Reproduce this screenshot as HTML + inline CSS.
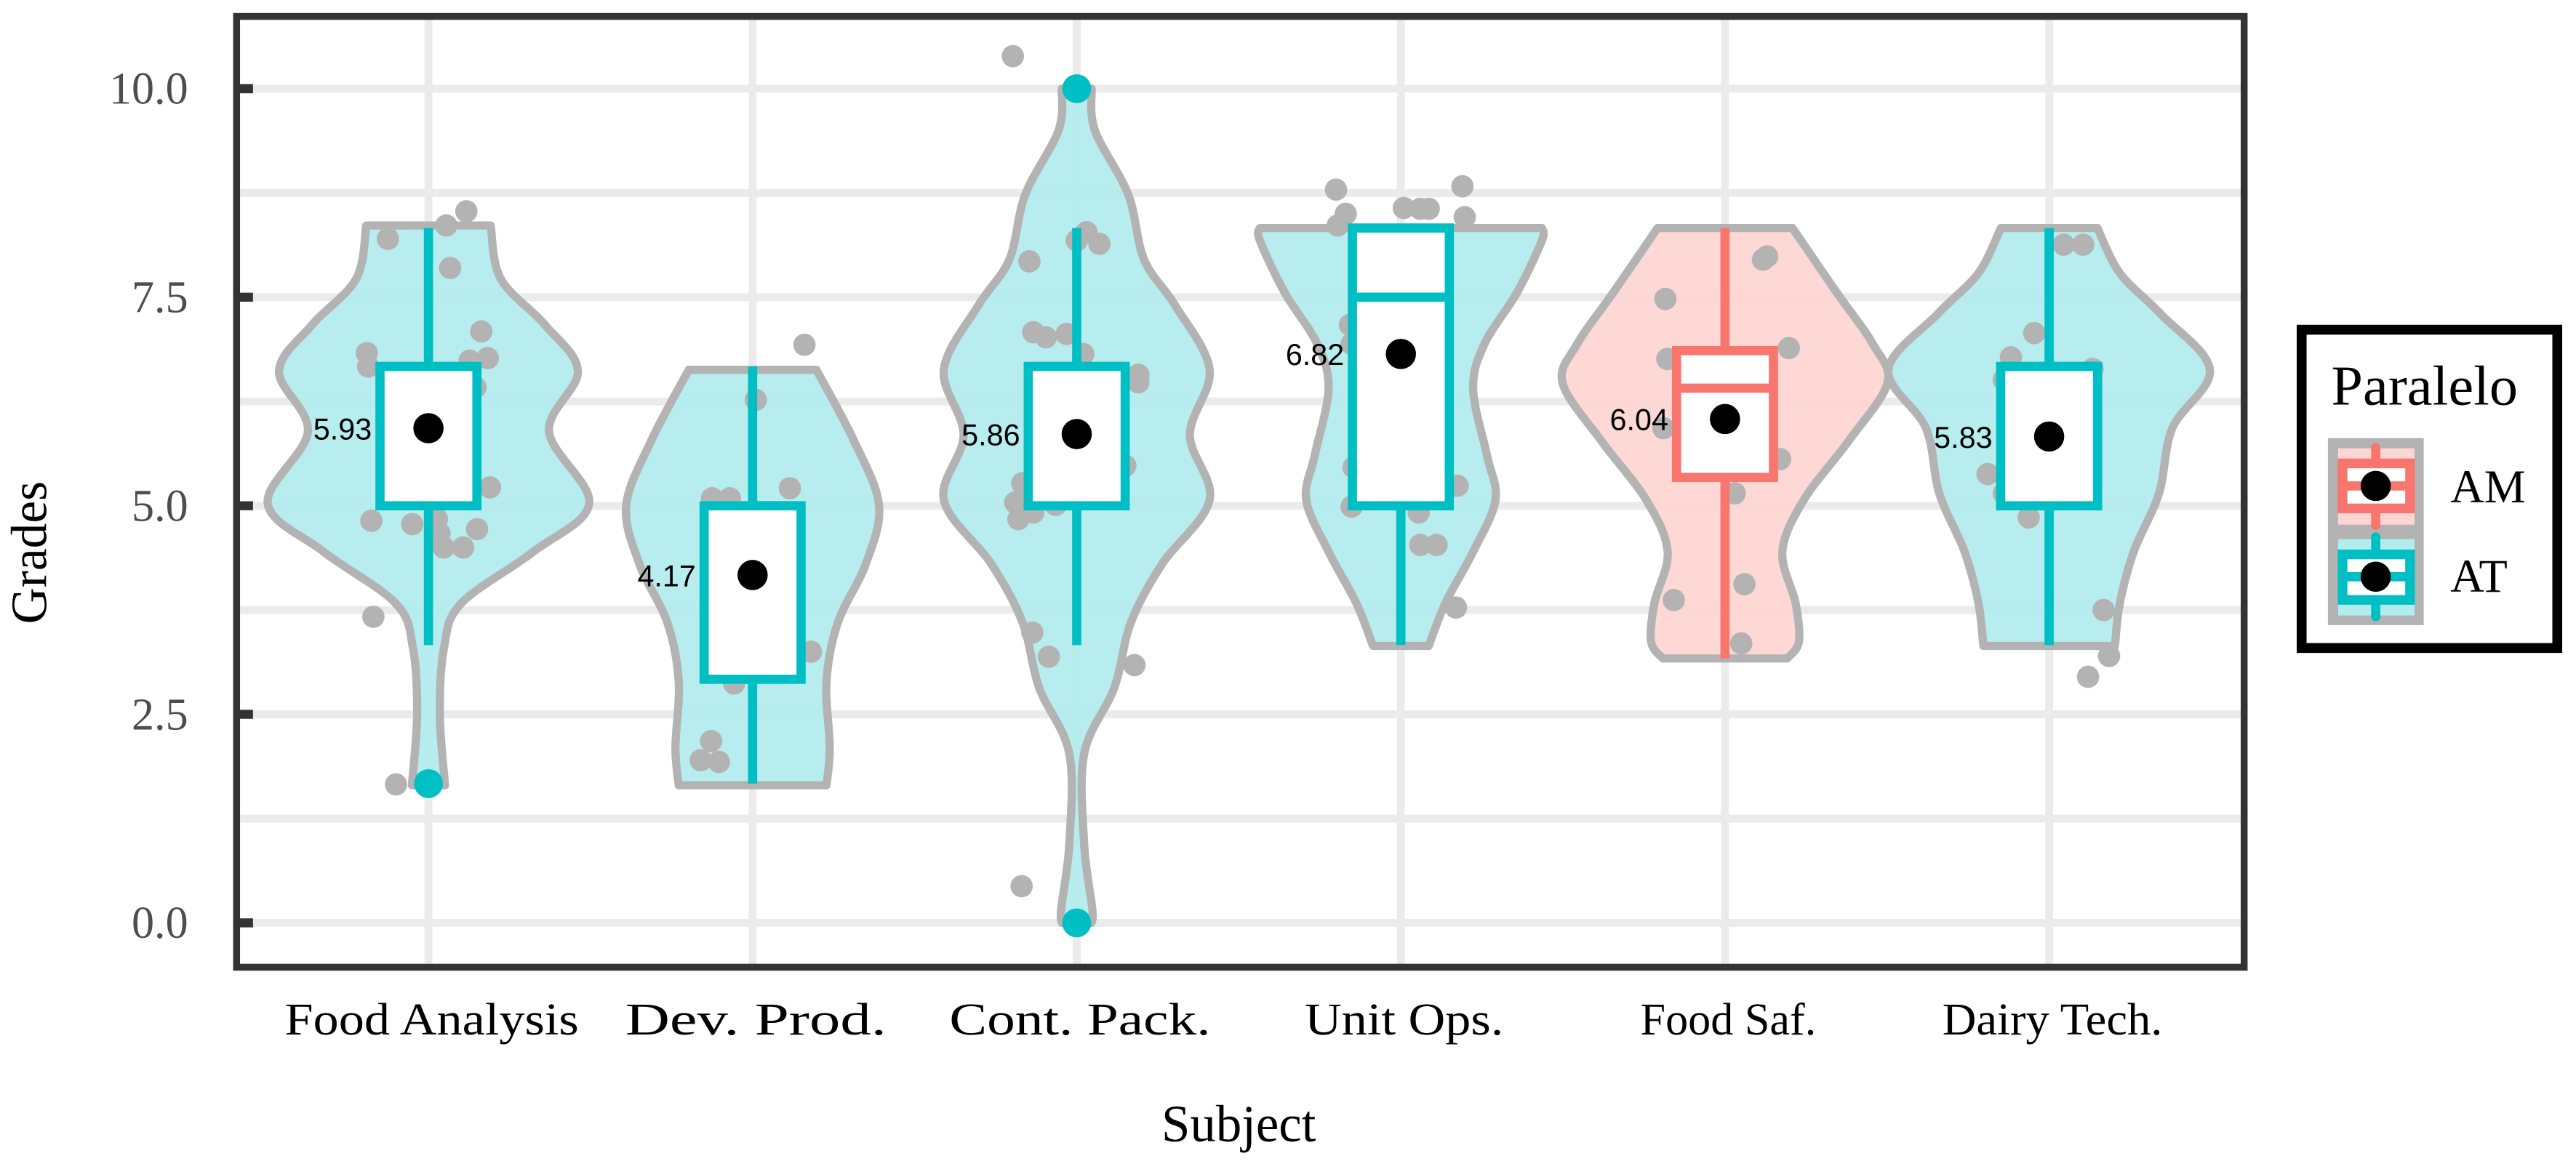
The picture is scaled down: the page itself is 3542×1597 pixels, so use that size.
<!DOCTYPE html>
<html><head><meta charset="utf-8">
<style>
html,body{margin:0;padding:0;background:#fff;}
svg{display:block;}
</style></head>
<body>
<svg id="chart" xmlns="http://www.w3.org/2000/svg" width="3542" height="1597" viewBox="0 0 1568 707" preserveAspectRatio="none">
<g id="grid"></g>
<g id="violins"></g>
<g id="points"></g>
<g id="boxes"></g>
<g id="axes"></g>
<g id="legend">
  <rect x="1401" y="200.8" width="155.6" height="193.8" fill="#fff" stroke="#000" stroke-width="6"/>
  <text x="1419" y="246.4" font-family="Liberation Serif, serif" font-size="34" textLength="113.6" lengthAdjust="spacingAndGlyphs">Paralelo</text>
  <rect x="1417" y="266.8" width="58.3" height="113.9" fill="#b3b3b3"/>
  <g>
    <rect x="1423.2" y="273" width="46.5" height="46.5" fill="#fdd6d3"/>
    <line x1="1446.1" y1="272.5" x2="1446.1" y2="320" stroke="#F8766D" stroke-width="5.6" stroke-linecap="round"/>
    <rect x="1425.9" y="282.2" width="41.1" height="27.4" fill="#fff" stroke="#F8766D" stroke-width="5.9"/>
    <line x1="1425.9" y1="295.9" x2="1467" y2="295.9" stroke="#F8766D" stroke-width="5.6"/>
    <circle cx="1446.1" cy="295.9" r="9.2" fill="#000"/>
    <text x="1491.5" y="305.8" font-family="Liberation Serif, serif" font-size="28.5">AM</text>
  </g>
  <g>
    <rect x="1423.2" y="328.3" width="46.5" height="46.5" fill="#b3eced"/>
    <line x1="1446.1" y1="327" x2="1446.1" y2="375.5" stroke="#00BFC4" stroke-width="5.6" stroke-linecap="round"/>
    <rect x="1425.9" y="337.6" width="41.1" height="27.7" fill="#fff" stroke="#00BFC4" stroke-width="5.9"/>
    <line x1="1425.9" y1="351.2" x2="1467" y2="351.2" stroke="#00BFC4" stroke-width="5.6"/>
    <circle cx="1446.1" cy="351.2" r="9.2" fill="#000"/>
    <text x="1491.5" y="360.3" font-family="Liberation Serif, serif" font-size="28.5">AT</text>
  </g>
</g>
</svg>
<script>
// ---------- data ----------
const categories = ["Food Analysis","Dev. Prod.","Cont. Pack.","Unit Ops.","Food Saf.","Dairy Tech."];
const groups = ["AT","AT","AT","AT","AM","AT"];
const means = [5.93, 4.17, 5.86, 6.82, 6.04, 5.83];
const q1 = [5.0, 2.92, 5.0, 5.0, 5.34, 5.0];
const medians = [6.67, 5.0, 6.67, 7.5, 6.41, 6.67];
const q3 = [6.67, 5.0, 6.67, 8.33, 6.86, 6.67];
const whiskerLow = [3.33, 1.67, 3.33, 3.33, 3.17, 3.33];
const whiskerHigh = [8.33, 6.67, 8.33, 8.33, 8.33, 8.33];
const outlierCat = [0, 2, 2];
const outlierVal = [1.67, 10.0, 0.0];
const yTicks = [0, 2.5, 5, 7.5, 10];
const yTickLabels = ["0.0","2.5","5.0","7.5","10.0"];
const yMinor = [1.25, 3.75, 6.25, 8.75];
// violin density profiles: grade levels and half-widths (category units)
const vLevels0 = [8.36,7.72,7.17,6.61,5.89,5.03,4.45,3.83,3.3,2.5,1.65];
const vWidth0  = [.192,.223,.359,.461,.372,.496,.324,.101,.048,.035,.051];
const vLevels1 = [6.63,5.77,5.0,4.3,3.6,2.9,2.1,1.65];
const vWidth1  = [.197,.314,.39,.349,.263,.228,.238,.228];
const vLevels2 = [10.0,9.5,8.73,7.95,7.4,6.63,5.85,5.07,4.3,3.6,2.82,2.03,0.94,0.17,0.0];
const vWidth2  = [.046,.056,.159,.208,.304,.41,.349,.41,.263,.167,.116,.023,.023,.048,.046];
const vLevels3 = [8.33,8.18,7.56,6.94,6.4,5.6,5.07,4.45,3.83,3.32];
const vWidth3  = [.435,.435,.359,.258,.223,.266,.292,.223,.137,.086];
const vLevels4 = [8.33,7.56,6.94,6.47,5.77,5.07,4.45,3.83,3.37,3.17];
const vWidth4  = [.208,.344,.456,.501,.38,.243,.177,.218,.228,.192];
const vLevels5 = [8.33,7.79,7.3,6.63,5.93,5.15,4.45,3.83,3.32];
const vWidth5  = [.149,.218,.344,.496,.38,.339,.261,.218,.203];
// jittered observations: grade values and horizontal jitter (category units)
const obs0 = [8.2,8.36,8.53,7.85,7.09,6.77,6.83,6.67,6.74,6.42,5.22,4.82,4.78,4.84,4.67,4.5,4.5,4.72,3.67,1.66];
const jit0 = [-.125,.055,.117,.067,.163,.183,-.19,-.186,.127,.145,.19,-.176,-.05,.026,.034,.047,.107,.15,-.17,-.1];
const obs1 = [6.93,6.27,5.21,5.09,5.09,3.25,2.87,2.18,1.95,1.93];
const jit1 = [.16,.01,.115,-.125,-.07,.18,-.057,-.128,-.16,-.104];
const obs2 = [10.39,7.93,8.18,8.28,8.14,7.08,7.02,7.06,6.82,6.57,6.48,5.48,5.27,5.04,4.92,4.84,5.01,3.48,3.19,3.09,0.44];
const jit2 = [-.197,-.146,0,.03,.07,-.134,-.095,-.031,.02,.19,.19,.15,-.168,-.19,-.134,-.18,-.065,-.137,-.086,.178,-.17];
const obs3 = [8.79,8.5,8.36,8.57,8.56,8.56,8.83,8.46,7.17,6.94,5.46,5.24,4.99,4.92,4.53,4.53,3.78];
const jit3 = [-.2,-.17,-.195,.009,.06,.086,.19,.197,-.157,-.152,-.146,.175,-.152,.055,.06,.11,.17];
const obs4 = [7.48,6.76,5.93,5.15,3.87,4.06,3.35,7.95,7.99,6.89,5.56];
const jit4 = [-.184,-.178,-.19,.03,-.158,.06,.05,.117,.13,.197,.17];
const obs5 = [8.13,8.13,7.07,6.78,6.64,6.51,5.38,5.15,4.86,3.75,3.2,2.95];
const jit5 = [.045,.105,-.046,-.118,.134,-.14,-.19,-.14,-.063,.168,.185,.12];

const vLevels = [vLevels0,vLevels1,vLevels2,vLevels3,vLevels4,vLevels5];
const vWidths = [vWidth0,vWidth1,vWidth2,vWidth3,vWidth4,vWidth5];
const obsVals = [obs0,obs1,obs2,obs3,obs4,obs5];
const obsJit = [jit0,jit1,jit2,jit3,jit4,jit5];

// ---------- scales ----------
const P = {l:144, r:1366, t:10, b:589};
const X0 = 260.8, XSTEP = 197.3;
function xScale(i){ return X0 + i*XSTEP; }
function wScale(w){ return w*XSTEP; }
function yScale(v){ return 562 - v*50.8; }
const NS = "http://www.w3.org/2000/svg";
function mk(tag, attrs, parent){
  const e = document.createElementNS(NS, tag);
  for (const k in attrs) e.setAttribute(k, attrs[k]);
  parent.appendChild(e);
  return e;
}
const colors = {AT:"#00BFC4", AM:"#F8766D"};
const fills = {AT:"#b3eced", AM:"#fdd6d3"};

// grid
const grid = document.getElementById('grid');
mk('rect',{x:P.l,y:P.t,width:P.r-P.l,height:P.b-P.t,fill:'#fff'},grid);
yMinor.concat(yTicks).forEach(v=>{
  const l = mk('line',{x1:P.l,x2:P.r,y1:yScale(v),y2:yScale(v),stroke:'#ebebeb','stroke-width':4.8},grid);
  
  
});
categories.forEach((c,i)=>{
  const l = mk('line',{x1:xScale(i),x2:xScale(i),y1:P.t,y2:P.b,stroke:'#ebebeb','stroke-width':4.8},grid);
  
  
});

// smooth path via catmull-rom
function smoothPath(pts){
  let d = "";
  for (let i=0;i<pts.length-1;i++){
    const p0 = pts[Math.max(0,i-1)], p1 = pts[i], p2 = pts[i+1], p3 = pts[Math.min(pts.length-1,i+2)];
    const c1 = [p1[0]+(p2[0]-p0[0])/6, p1[1]+(p2[1]-p0[1])/6];
    const c2 = [p2[0]-(p3[0]-p1[0])/6, p2[1]-(p3[1]-p1[1])/6];
    d += ` C${c1[0].toFixed(2)},${c1[1].toFixed(2)} ${c2[0].toFixed(2)},${c2[1].toFixed(2)} ${p2[0].toFixed(2)},${p2[1].toFixed(2)}`;
  }
  return d;
}

// violins
const vg = document.getElementById('violins');
categories.forEach((c,i)=>{
  const cx = xScale(i);
  const lv = vLevels[i], wd = vWidths[i];
  const left = lv.map((v,k)=>[cx - wScale(wd[k]), yScale(v)]);
  const right = lv.map((v,k)=>[cx + wScale(wd[k]), yScale(v)]).reverse();
  let d = `M${left[0][0]},${left[0][1]}` + smoothPath(left) + ` L${right[0][0]},${right[0][1]}` + smoothPath(right) + " Z";
  const p = mk('path',{d:d,fill:fills[groups[i]],stroke:'#b3b3b3','stroke-width':5,'stroke-linejoin':'round','fill-opacity':0.95},vg);
  
  
});

// points
const pg = document.getElementById('points');
categories.forEach((c,i)=>{
  obsVals[i].forEach((v,k)=>{
    const pt = mk('circle',{cx:xScale(i)+wScale(obsJit[i][k]),cy:yScale(v),r:6.8,fill:'#b3b3b3'},pg);
    
    
  });
});

// boxes
const bg = document.getElementById('boxes');
const HW = 29.5;
categories.forEach((c,i)=>{
  const cx = xScale(i), col = colors[groups[i]];
  const g = mk('g',{},bg);
  
  
  mk('line',{x1:cx,x2:cx,y1:yScale(whiskerLow[i]),y2:yScale(q1[i]),stroke:col,'stroke-width':5.6},g);
  mk('line',{x1:cx,x2:cx,y1:yScale(q3[i]),y2:yScale(whiskerHigh[i]),stroke:col,'stroke-width':5.6},g);
  mk('rect',{x:cx-HW,y:yScale(q3[i]),width:2*HW,height:yScale(q1[i])-yScale(q3[i]),fill:'#fff',stroke:col,'stroke-width':5.6},g);
  mk('line',{x1:cx-HW,x2:cx+HW,y1:yScale(medians[i]),y2:yScale(medians[i]),stroke:col,'stroke-width':5.6},g);
  const m = mk('circle',{cx:cx,cy:yScale(means[i]),r:9.2,fill:'#000'},g);
  
  
  const t = mk('text',{x:cx-HW-5,y:yScale(means[i])+6.8,'text-anchor':'end','font-family':'Liberation Sans, sans-serif','font-size':18.3,fill:'#000'},g);
  t.textContent = means[i].toFixed(2);
  
  
});
outlierVal.forEach((v,k)=>{
  const o = mk('circle',{cx:xScale(outlierCat[k]),cy:yScale(v),r:8.8,fill:colors[groups[outlierCat[k]]]},bg);
  
  
});

// axes
const ag = document.getElementById('axes');
const border = mk('rect',{x:P.l,y:P.t,width:P.r-P.l,height:P.b-P.t,fill:'none',stroke:'#333','stroke-width':4.2},ag);


yTicks.forEach((v,k)=>{
  const tk = mk('line',{x1:P.l,x2:P.l+10,y1:yScale(v),y2:yScale(v),stroke:'#333','stroke-width':5.5},ag);
  
  
  const t = mk('text',{x:114.5,y:yScale(v)+9.2,'text-anchor':'end','font-family':'Liberation Serif, serif','font-size':27.5,fill:'#4d4d4d'},ag);
  t.textContent = yTickLabels[k];
  
  
});
const xLabelWidths = [179,159,159,121,107,134];
categories.forEach((c,i)=>{
  const t = mk('text',{x:xScale(i)+2,y:630,'text-anchor':'middle','font-family':'Liberation Serif, serif','font-size':27.5,fill:'#000',textLength:xLabelWidths[i],lengthAdjust:'spacingAndGlyphs'},ag);
  t.textContent = c;
  
  
});
const xt = mk('text',{x:754,y:695,'text-anchor':'middle','font-family':'Liberation Serif, serif','font-size':32,fill:'#000',textLength:94,lengthAdjust:'spacingAndGlyphs'},ag);
xt.textContent = 'Subject';


const yt = mk('text',{x:0,y:0,transform:'translate(28,336.5) rotate(-90)','text-anchor':'middle','font-family':'Liberation Serif, serif','font-size':31,fill:'#000',textLength:87,lengthAdjust:'spacingAndGlyphs'},ag);
yt.textContent = 'Grades';


</script>
</body></html>
